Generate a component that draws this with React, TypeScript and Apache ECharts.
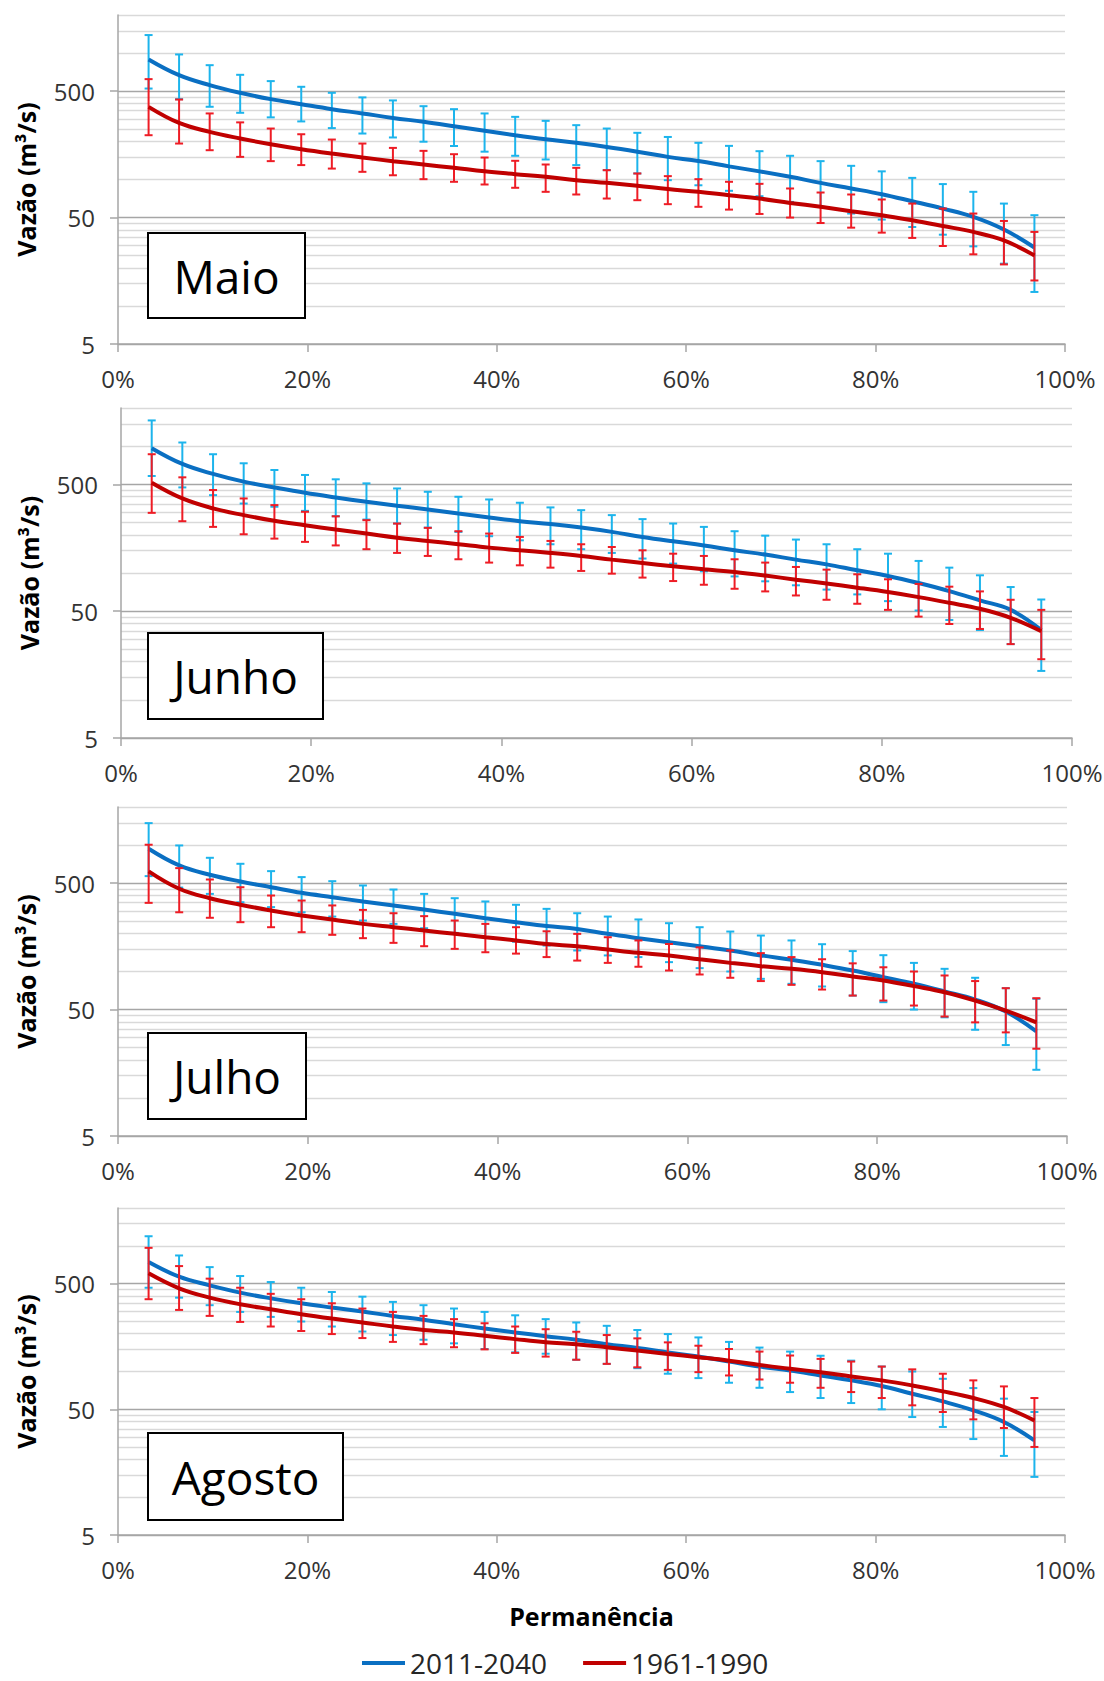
import React, { useEffect, useRef } from "react";
import * as echarts from "echarts";

// ---------------- data ----------------
const permanencia = [3.23, 6.45, 9.68, 12.9, 16.13, 19.35, 22.58, 25.81, 29.03, 32.26, 35.48, 38.71, 41.94, 45.16, 48.39, 51.61, 54.84, 58.06, 61.29, 64.52, 67.74, 70.97, 74.19, 77.42, 80.65, 83.87, 87.1, 90.32, 93.55, 96.77];

const yLabelValues = [5, 50, 500];
const minorGridValues = [10, 15, 20, 25, 30, 35, 40, 45, 100, 150, 200, 250, 300, 350, 400, 450, 1000, 1500, 2000];
const xTickLabels = ["0%", "20%", "40%", "60%", "80%", "100%"];
const seriesNames = ["2011-2040", "1961-1990"];
const monthNames = ["Maio", "Junho", "Julho", "Agosto"];

// Maio
const maioFut = [891, 669, 558, 485, 432, 394, 360, 333, 307, 286, 264, 243, 224, 208, 195, 181, 166, 151, 140, 127, 116, 105, 94, 85, 76.5, 67.3, 58.9, 50.6, 40.2, 29];
const maioFutHi = [1388, 975, 802, 673, 600, 541, 485, 446, 422, 380, 360, 333, 313, 291, 269, 253, 234, 217, 195, 184.5, 167.5, 154, 139.7, 128.3, 116, 103, 92, 79.9, 64.5, 52.2];
const maioFutLo = [524, 432, 376, 337, 310, 288, 255, 231, 215, 199, 184, 166, 154, 144, 130, 118.6, 111.6, 98.8, 90, 81.4, 73.8, 66.5, 60.8, 53.8, 48.2, 42.1, 36.6, 29.6, 21.6, 12.9];
const maioHist = [375.6, 280, 238, 211, 190, 173.6, 160.4, 149.2, 139.7, 131.4, 123.7, 116, 110.2, 105, 98.8, 94.1, 89.2, 84, 79.9, 75.1, 70.7, 65.3, 60.8, 56.1, 52.2, 47.6, 42.9, 38.5, 33, 25.1];
const maioHistHi = [622, 429, 333, 283, 253, 228, 207, 192.5, 177.8, 168.5, 158.5, 149.2, 140.6, 131.4, 123.7, 118.5, 111.6, 106.3, 100.6, 95.9, 92.4, 84.9, 78.9, 76.1, 69.5, 64.5, 58.9, 53.8, 47, 38.5];
const maioHistLo = [224, 192.5, 170.5, 151, 139.7, 130, 122, 115, 108, 100.6, 95.9, 91.3, 86, 79.9, 76.1, 70.7, 68.6, 63.8, 60.8, 57.8, 53.4, 50, 45.3, 41.6, 38, 34.5, 29.8, 25.6, 21.3, 15.9];

// Junho
const junhoFut = [964, 724, 604, 525, 473, 429, 394, 364, 339, 317, 294, 274, 256, 243, 228, 211, 192.5, 177.8, 165, 151, 139.7, 127.5, 117, 105, 94.7, 83.3, 72, 60.8, 51.2, 35.5];
const junhoFutHi = [1596, 1069, 864, 733, 649, 593, 548, 509, 464, 437, 399, 380, 358, 329, 313, 286, 266, 245.5, 231, 213.5, 197, 183.5, 168.5, 154, 142, 124.5, 110.2, 95.9, 77.5, 61.8];
const junhoFutLo = [582, 473, 411, 353, 333, 309, 280, 264, 245.5, 228, 211, 195, 181, 168.5, 154, 144, 130, 118.6, 103, 94, 86, 80, 74, 67.8, 60, 50.6, 42.6, 35.5, 27.5, 16.9];
const junhoHist = [515, 387, 323, 286, 258, 238, 220, 204.6, 190, 179, 168.5, 158.5, 151, 144, 136.3, 127.5, 120, 113, 107, 101.8, 95.4, 88.6, 82.6, 76.6, 70.7, 64.5, 58.2, 52.2, 44.3, 34.7];
const junhoHistHi = [864, 568, 451, 387, 343, 304, 280, 261, 245.5, 227, 213.5, 204.6, 192.5, 179, 168.5, 160.4, 151, 142, 136.3, 128.3, 120.8, 111.6, 106.3, 97.7, 89.2, 82, 78, 71.6, 61.5, 51.2];
const junhoHistLo = [298, 256, 231, 202, 186.7, 176, 165, 154, 144, 136.3, 128.3, 120.8, 115, 110.2, 103.8, 98.8, 92, 86.4, 80.8, 75.1, 71.6, 66.5, 61.5, 57.2, 51.2, 45.3, 39.6, 36.2, 27.5, 20.9];

// Julho
const julhoFut = [935, 690, 582, 515, 464, 419, 387, 358, 333, 309, 286, 264, 245.5, 229, 217, 198.5, 183.5, 170.5, 158.5, 146.7, 134, 124, 112.9, 101.8, 90.2, 79.9, 69.5, 60, 48.2, 33.6];
const julhoFutHi = [1491, 993, 793, 711, 622, 558, 518, 479, 445, 411, 380, 358, 337, 313, 289, 272, 258, 241, 224, 207, 192.5, 176, 164.4, 145, 134.6, 117, 105, 89.2, 73.8, 60.8];
const julhoFutLo = [568, 461, 411, 353, 323, 294, 272, 253, 238, 220, 202, 186.7, 172, 160.4, 146.7, 134, 130, 118.6, 106.3, 100, 87.5, 79.9, 76.1, 64.5, 57.2, 50, 43.4, 34.6, 26.2, 16.7];
const julhoHist = [619, 451, 380, 337, 304, 277, 258, 238, 224, 211, 198.5, 186.7, 176, 165, 158.5, 149.2, 140.6, 134, 125, 117, 110.2, 105, 98.8, 91.3, 85, 76.6, 68.6, 58.9, 49.1, 39.6];
const julhoHistHi = [1006, 657, 534, 464, 399, 364, 333, 307, 289, 274, 253, 238, 224, 208, 198.5, 186.7, 176, 165, 155, 146.7, 139.7, 130, 125, 116, 108, 100, 93, 84, 73.8, 61.5];
const julhoHistLo = [349, 294, 266, 245.5, 224, 204.6, 195, 183.5, 168.5, 158.5, 151, 142, 138.5, 130, 122, 117, 109, 101.8, 94.7, 89.2, 84, 78.4, 72, 64.5, 58.9, 53.8, 44, 39.6, 33, 24.5];

// Agosto
const agostoFut = [742, 568, 485, 424, 382, 349, 323, 300, 277, 258, 238, 220, 204.6, 191, 179, 165, 154, 142, 131.4, 120, 109.5, 101.8, 93, 85, 76.6, 66.5, 57.8, 49.1, 39.6, 28.3];
const agostoFutHi = [1192, 838, 677, 575, 515, 464, 429, 394, 358, 337, 317, 298, 280, 261, 245.5, 231, 214, 198.5, 186.7, 172, 155, 144, 133.5, 122, 109.5, 100, 87.5, 73.8, 60.8, 47.6];
const agostoFutLo = [464, 387, 337, 298, 272, 250, 228, 208, 195, 179, 167.5, 151, 142, 138.5, 124, 115, 106.3, 96, 88.6, 81.4, 74.2, 68.6, 61.5, 56.1, 50, 43.4, 36.2, 29, 21.3, 14.5];
const agostoHist = [604, 459, 387, 343, 313, 286, 264, 245.5, 228, 214, 204.6, 192.5, 181, 171, 165, 156, 146.7, 138, 130, 122, 112.9, 105, 98.8, 91.3, 85, 77.4, 69.5, 61.5, 52.2, 40.8];
const agostoHistHi = [964, 690, 548, 464, 415, 376, 349, 317, 298, 277, 261, 242, 228, 217, 207, 195, 183.5, 170.5, 160.4, 151, 144, 134, 126, 120, 109.5, 104, 96, 85, 76.1, 61.5];
const agostoHistLo = [376, 309, 277, 248, 228, 210, 198.5, 184.5, 172, 165, 156, 150, 140.6, 131.4, 124, 115, 108, 103, 98.8, 93, 86.4, 81.4, 74.2, 68.6, 61.5, 53.8, 47.6, 41.6, 35.5, 25.1];

const panelData = [
  { fut: maioFut, futHi: maioFutHi, futLo: maioFutLo, hist: maioHist, histHi: maioHistHi, histLo: maioHistLo },
  { fut: junhoFut, futHi: junhoFutHi, futLo: junhoFutLo, hist: junhoHist, histHi: junhoHistHi, histLo: junhoHistLo },
  { fut: julhoFut, futHi: julhoFutHi, futLo: julhoFutLo, hist: julhoHist, histHi: julhoHistHi, histLo: julhoHistLo },
  { fut: agostoFut, futHi: agostoFutHi, futLo: agostoFutLo, hist: agostoHist, histHi: agostoHistHi, histLo: agostoHistLo },
];

// ---------------- layout & style ----------------
const FONT = '"Open Sans", "Noto Sans", "Liberation Sans", sans-serif';
const gridLayout = [
  { left: 118, top: 15, width: 947, height: 329 },
  { left: 121, top: 408, width: 951, height: 330 },
  { left: 118, top: 807, width: 949, height: 329 },
  { left: 118, top: 1208, width: 947, height: 327 },
];
const boxLayout = [
  { x: 148, y: 233, w: 157, h: 85 },
  { x: 148, y: 633, w: 175, h: 86 },
  { x: 148, y: 1033, w: 158, h: 86 },
  { x: 148, y: 1433, w: 195, h: 87 },
];
const BLUE_LINE = "#0a6fc2";
const BLUE_BAR = "#1cb4ec";
const RED_LINE = "#c00000";
const RED_BAR = "#ee1c25";
const AXIS_GRAY = "#a6a6a6";
const MINOR_GRAY = "#d9d9d9";
const LABEL_COLOR = "#333333";

function errorBars(color: string) {
  return (params: any, api: any) => {
    const x = api.value(0);
    const lo = api.value(1);
    const hi = api.value(2);
    const a = api.coord([x, lo]);
    const b = api.coord([x, hi]);
    const w = 4;
    const style = { stroke: color, lineWidth: 2 };
    return {
      type: "group",
      children: [
        { type: "line", shape: { x1: a[0], y1: a[1], x2: b[0], y2: b[1] }, style },
        { type: "line", shape: { x1: b[0] - w, y1: b[1], x2: b[0] + w, y2: b[1] }, style },
        { type: "line", shape: { x1: a[0] - w, y1: a[1], x2: a[0] + w, y2: a[1] }, style },
      ],
    };
  };
}

function buildOption() {
  const grid: any[] = [];
  const xAxis: any[] = [];
  const yAxis: any[] = [];
  const series: any[] = [];
  const graphic: any[] = [];

  panelData.forEach((p, k) => {
    const g = gridLayout[k];
    grid.push({ ...g, containLabel: false, outerBoundsMode: "none" });
    const isLast = k === panelData.length - 1;
    xAxis.push({
      gridIndex: k,
      type: "value",
      min: 0,
      max: 100,
      interval: 20,
      axisLine: { show: true, lineStyle: { color: AXIS_GRAY, width: 1.5 } },
      axisTick: { show: true, length: 8, lineStyle: { color: AXIS_GRAY, width: 1.5 } },
      axisLabel: {
        fontSize: 24,
        fontFamily: FONT,
        color: LABEL_COLOR,
        margin: 22,
        formatter: (v: number) => xTickLabels[Math.round(v / 20)] ?? "",
      },
      splitLine: { show: false },
      name: isLast ? "Permanência" : "",
      nameLocation: "middle",
      nameGap: 68,
      nameTextStyle: { fontSize: 25, fontWeight: "bold", fontFamily: FONT, color: "#000" },
    });
    yAxis.push({
      gridIndex: k,
      type: "log",
      logBase: 10,
      min: 5,
      max: 2000,
      position: "left",
      axisLine: { show: true, lineStyle: { color: AXIS_GRAY, width: 1.5 } },
      axisTick: { show: true, length: 8, customValues: yLabelValues, lineStyle: { color: AXIS_GRAY, width: 1.5 } },
      axisLabel: {
        customValues: yLabelValues,
        fontSize: 24,
        fontFamily: FONT,
        color: LABEL_COLOR,
        margin: 23,
        formatter: (v: number) => String(Math.round(v)),
      },
      splitLine: { show: true, lineStyle: { color: AXIS_GRAY, width: 1.3 } },
      name: "Vazão (m³/s)",
      nameLocation: "middle",
      nameGap: 80,
      nameTextStyle: { fontSize: 25, fontWeight: "bold", fontFamily: FONT, color: "#000" },
    });
    yAxis.push({
      gridIndex: k,
      type: "log",
      logBase: 10,
      min: 5,
      max: 2000,
      position: "left",
      axisLine: { show: false },
      axisTick: { show: false, customValues: minorGridValues },
      axisLabel: { show: false },
      splitLine: { show: true, lineStyle: { color: MINOR_GRAY, width: 1.3 } },
    });
    const yMain = 2 * k;
    series.push({
      type: "custom",
      name: "eb-fut-" + k,
      xAxisIndex: k,
      yAxisIndex: yMain,
      silent: true,
      renderItem: errorBars(BLUE_BAR),
      encode: { x: 0, y: [1, 2] },
      data: permanencia.map((x, i) => [x, p.futLo[i], p.futHi[i]]),
      z: 2,
    });
    series.push({
      type: "line",
      name: seriesNames[0],
      xAxisIndex: k,
      yAxisIndex: yMain,
      smooth: 0.4,
      symbol: "none",
      silent: true,
      itemStyle: { color: BLUE_LINE },
      lineStyle: { color: BLUE_LINE, width: 4 },
      data: permanencia.map((x, i) => [x, p.fut[i]]),
      z: 3,
    });
    series.push({
      type: "custom",
      name: "eb-hist-" + k,
      xAxisIndex: k,
      yAxisIndex: yMain,
      silent: true,
      renderItem: errorBars(RED_BAR),
      encode: { x: 0, y: [1, 2] },
      data: permanencia.map((x, i) => [x, p.histLo[i], p.histHi[i]]),
      z: 4,
    });
    series.push({
      type: "line",
      name: seriesNames[1],
      xAxisIndex: k,
      yAxisIndex: yMain,
      smooth: 0.4,
      symbol: "none",
      silent: true,
      itemStyle: { color: RED_LINE },
      lineStyle: { color: RED_LINE, width: 4 },
      data: permanencia.map((x, i) => [x, p.hist[i]]),
      z: 5,
    });

    const b = boxLayout[k];
    graphic.push({
      type: "rect",
      shape: { x: b.x, y: b.y, width: b.w, height: b.h },
      style: { fill: "#ffffff", stroke: "#000000", lineWidth: 2 },
      z: 100,
    });
    graphic.push({
      type: "text",
      x: b.x + b.w / 2,
      y: b.y + b.h / 2,
      style: {
        text: monthNames[k],
        fontSize: 46,
        fontFamily: FONT,
        fill: "#000000",
        align: "center",
        verticalAlign: "middle",
        textAlign: "center",
        textVerticalAlign: "middle",
      },
      z: 101,
    });
  });

  return {
    animation: false,
    backgroundColor: "#ffffff",
    grid,
    xAxis,
    yAxis,
    series,
    graphic,
    legend: {
      data: seriesNames,
      left: 362,
      top: 1648,
      padding: 0,
      icon: "rect",
      itemWidth: 43,
      itemHeight: 4,
      itemGap: 36,
      selectedMode: false,
      textStyle: { fontSize: 28, lineHeight: 30, fontFamily: FONT, color: "#262626" },
    },
  };
}

export default function App() {
  const ref = useRef<HTMLDivElement>(null);
  useEffect(() => {
    if (!ref.current) return;
    const chart = echarts.init(ref.current, undefined, { renderer: "svg" });
    chart.setOption(buildOption() as any);
    return () => chart.dispose();
  }, []);
  return (
    <div
      ref={ref}
      style={{ position: "absolute", left: 0, top: 0, width: 1104, height: 1681, background: "#fff" }}
    />
  );
}
